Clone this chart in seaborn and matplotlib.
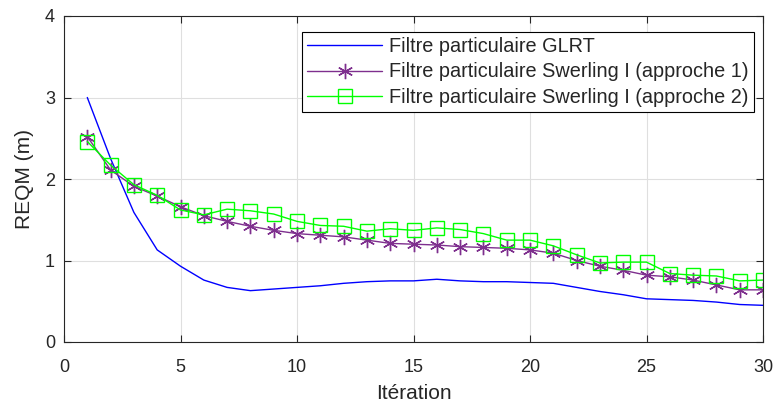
import numpy as np
import pandas as pd
import matplotlib
matplotlib.use("Agg")
import matplotlib.pyplot as plt
import seaborn as sns

iterations = list(range(1, 31))
glrt = [3.00, 2.25, 1.59, 1.13, 0.93, 0.76, 0.67, 0.63, 0.65, 0.67,
        0.69, 0.72, 0.74, 0.75, 0.75, 0.77, 0.75, 0.74, 0.74, 0.73,
        0.72, 0.67, 0.62, 0.58, 0.53, 0.52, 0.51, 0.49, 0.46, 0.45]
swerling1 = [2.52, 2.11, 1.91, 1.79, 1.66, 1.55, 1.48, 1.42, 1.37, 1.33,
             1.31, 1.29, 1.25, 1.21, 1.20, 1.19, 1.17, 1.16, 1.15, 1.13,
             1.09, 1.00, 0.93, 0.88, 0.82, 0.80, 0.76, 0.70, 0.64, 0.64]
swerling2 = [2.46, 2.17, 1.93, 1.80, 1.62, 1.56, 1.63, 1.61, 1.57, 1.48,
             1.43, 1.42, 1.36, 1.39, 1.37, 1.40, 1.38, 1.33, 1.25, 1.25,
             1.18, 1.07, 0.97, 0.98, 0.98, 0.84, 0.82, 0.81, 0.75, 0.76]
labels = ["Filtre particulaire GLRT",
          "Filtre particulaire Swerling I (approche 1)",
          "Filtre particulaire Swerling I (approche 2)"]
xticks = [0, 5, 10, 15, 20, 25, 30]
yticks = [0, 1, 2, 3, 4]

sns.set_style("whitegrid")
plt.rcParams['font.family'] = ['Liberation Sans', 'DejaVu Sans']

fig = plt.figure(figsize=(7.77, 4.12), dpi=100)
ax = fig.add_axes([64/777, 1-342/412, (763-64)/777, (342-16)/412])

df = pd.DataFrame({"x": iterations * 3,
                   "y": glrt + swerling1 + swerling2,
                   "s": [labels[0]] * 30 + [labels[1]] * 30 + [labels[2]] * 30})
colors = ["#0000FF", "#7E2F8E", "#00FF00"]
sns.lineplot(data=df, x="x", y="y", hue="s", palette=colors, ax=ax,
             legend=False, linewidth=1.0)
lines = ax.get_lines()
for ln, m in zip(lines, ["None", (6, 2, 0), "s"]):
    ln.set_marker(m)
    ln.set_markersize(11 if m != "s" else 9.5)
    ln.set_markerfacecolor("none")
    ln.set_markeredgewidth(1.0)
    ln.set_markeredgecolor(ln.get_color())

ax.set_xlim(0, 30)
ax.set_ylim(0, 4)
ax.set_xticks(xticks)
ax.set_yticks(yticks)
ax.set_xlabel("Itération", fontsize=15, labelpad=6)
ax.set_ylabel("REQM (m)", fontsize=15, labelpad=8)
ax.tick_params(labelsize=13, direction="in", length=5, width=0.8,
               top=True, right=True, bottom=True, left=True, colors="#262626")
ax.tick_params(axis="x", pad=12)
ax.tick_params(axis="y", pad=6.5)
ax.grid(True, color="#dfdfdf", linewidth=0.8)
for sp in ax.spines.values():
    sp.set_visible(True)
    sp.set_color("#262626")
    sp.set_linewidth(0.8)

leg = ax.legend(lines, labels, loc="upper right", bbox_to_anchor=(0.987, 0.951),
                fontsize=14.3, frameon=True, fancybox=False, edgecolor="black",
                framealpha=1, handlelength=3.8, borderpad=0.25,
                labelspacing=0.33, handletextpad=0.35, borderaxespad=0)
leg.get_frame().set_linewidth(0.8)

fig.savefig("out.png", dpi=100)
